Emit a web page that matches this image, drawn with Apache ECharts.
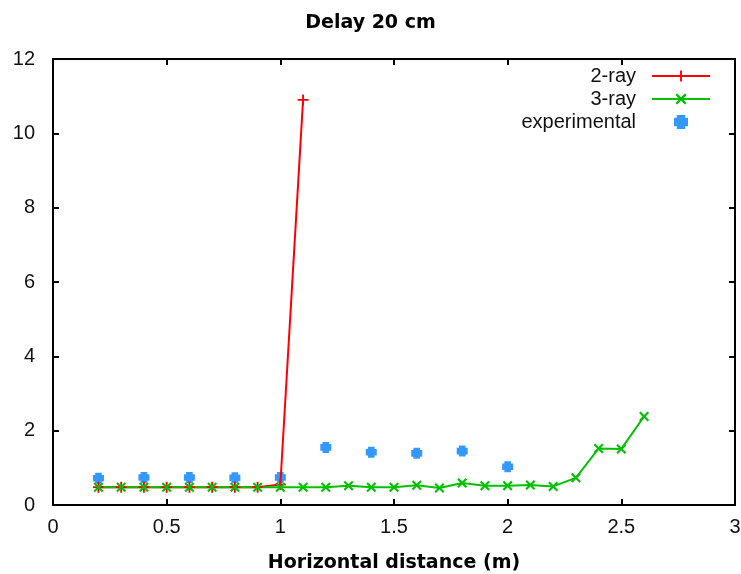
<!DOCTYPE html>
<html>
<head>
<meta charset="utf-8">
<script src="https://cdn.jsdelivr.net/npm/echarts@6/dist/echarts.min.js"></script>
<style>
  html, body { margin: 0; padding: 0; background: #fff; }
  #chart { width: 741px; height: 574px; }
</style>
</head>
<body>
<div id="chart"></div>
<script>
  // 数据
  const rayX2 = [0.2, 0.3, 0.4, 0.5, 0.6, 0.7, 0.8, 0.9, 1.0, 1.1]
  const rayY2 = [0.48, 0.48, 0.48, 0.48, 0.48, 0.48, 0.48, 0.48, 0.55, 10.9]

  const rayX3 = [0.2, 0.3, 0.4, 0.5, 0.6, 0.7, 0.8, 0.9, 1.0, 1.1, 1.2, 1.3, 1.4,
    1.5, 1.6, 1.7, 1.8, 1.9, 2.0, 2.1, 2.2, 2.3, 2.4, 2.5, 2.6]
  const rayY3 = [0.48, 0.48, 0.48, 0.48, 0.48, 0.48, 0.48, 0.48, 0.48, 0.48, 0.48, 0.52, 0.48,
    0.48, 0.53, 0.46, 0.59, 0.52, 0.52, 0.54, 0.5, 0.73, 1.52, 1.51, 2.38]

  const expX = [0.2, 0.4, 0.6, 0.8, 1.0, 1.2, 1.4, 1.6, 1.8, 2.0]
  const expY = [0.72, 0.74, 0.74, 0.73, 0.74, 1.55, 1.42, 1.39, 1.45, 1.03]

  const xTicks = [0, 0.5, 1, 1.5, 2, 2.5, 3]
  const yTicks = [0, 2, 4, 6, 8, 10, 12]

  const pairs = (xs, ys) => xs.map((x, i) => [x, ys[i]])

  // 符号
  const plusSym = 'path://M5,0H7V5H12V7H7V12H5V7H0V5H5Z'
  const crossSym = 'path://M0,1.5L1.5,0L5,3.5L8.5,0L10,1.5L6.5,5L10,8.5L8.5,10L5,6.5L1.5,10L0,8.5L3.5,5Z'
  const starSym = 'path://M1,0H4V1H5V4H4V5H1V4H0V1H1Z'

  const labelFont = { fontFamily: 'Liberation Sans', fontSize: 20, color: '#111' }
  const lineStyle = { color: '#000', width: 2 }

  const myChart = echarts.init(document.getElementById('chart'))

  // 边框轴（上、右）
  const mirrorAxis = (position, max, interval) => ({
    type: 'value',
    position: position,
    min: 0,
    max: max,
    interval: interval,
    axisLine: { show: true, onZero: false, lineStyle: lineStyle },
    axisTick: { show: true, inside: true, length: 6, lineStyle: lineStyle },
    axisLabel: { show: false },
    splitLine: { show: false }
  })

  const option = {
    animation: false,
    backgroundColor: '#fff',
    title: {
      text: 'Delay 20 cm',
      left: 'center',
      top: 9,
      textStyle: { fontFamily: 'DejaVu Sans', fontSize: 19, fontWeight: 'bold', color: '#000' }
    },
    legend: {
      orient: 'vertical',
      right: 30,
      top: 66,
      padding: 0,
      align: 'right',
      itemWidth: 58,
      itemHeight: 14,
      itemGap: 3,
      textStyle: Object.assign({ lineHeight: 18, padding: [0, 11, 0, 0] }, labelFont),
      data: ['2-ray', '3-ray', 'experimental']
    },
    grid: { left: 53, right: 6, top: 59, bottom: 69, outerBoundsMode: 'none' },
    xAxis: [
      {
        type: 'value',
        min: 0,
        max: 3,
        interval: 0.5,
        name: 'Horizontal distance (m)',
        nameLocation: 'middle',
        nameGap: 49,
        nameTextStyle: { fontFamily: 'DejaVu Sans', fontSize: 19, fontWeight: 'bold', color: '#000' },
        axisLine: { onZero: false, lineStyle: lineStyle },
        axisTick: { inside: true, length: 6, lineStyle: lineStyle },
        axisLabel: Object.assign({ margin: 12, showMaxLabel: true }, labelFont),
        splitLine: { show: false }
      },
      mirrorAxis('top', 3, 0.5)
    ],
    yAxis: [
      {
        type: 'value',
        min: 0,
        max: 12,
        interval: 2,
        axisLine: { show: true, onZero: false, lineStyle: lineStyle },
        axisTick: { show: true, inside: true, length: 6, lineStyle: lineStyle },
        axisLabel: Object.assign({ margin: 18 }, labelFont),
        splitLine: { show: false }
      },
      mirrorAxis('right', 12, 2)
    ],
    series: [
      {
        name: '2-ray',
        type: 'line',
        data: pairs(rayX2, rayY2),
        symbol: plusSym,
        symbolSize: 11,
        color: '#ff0000',
        lineStyle: { width: 2 },
        itemStyle: { color: '#ff0000' }
      },
      {
        name: '3-ray',
        type: 'line',
        data: pairs(rayX3, rayY3),
        symbol: crossSym,
        symbolSize: 10,
        color: '#00c000',
        lineStyle: { width: 2 },
        itemStyle: { color: '#00c000' }
      },
      {
        name: 'experimental',
        type: 'scatter',
        data: pairs(expX, expY),
        symbol: starSym,
        symbolSize: 11,
        itemStyle: { color: '#0080ff' }
      }
    ]
  }

  myChart.setOption(option)
</script>
</body>
</html>
